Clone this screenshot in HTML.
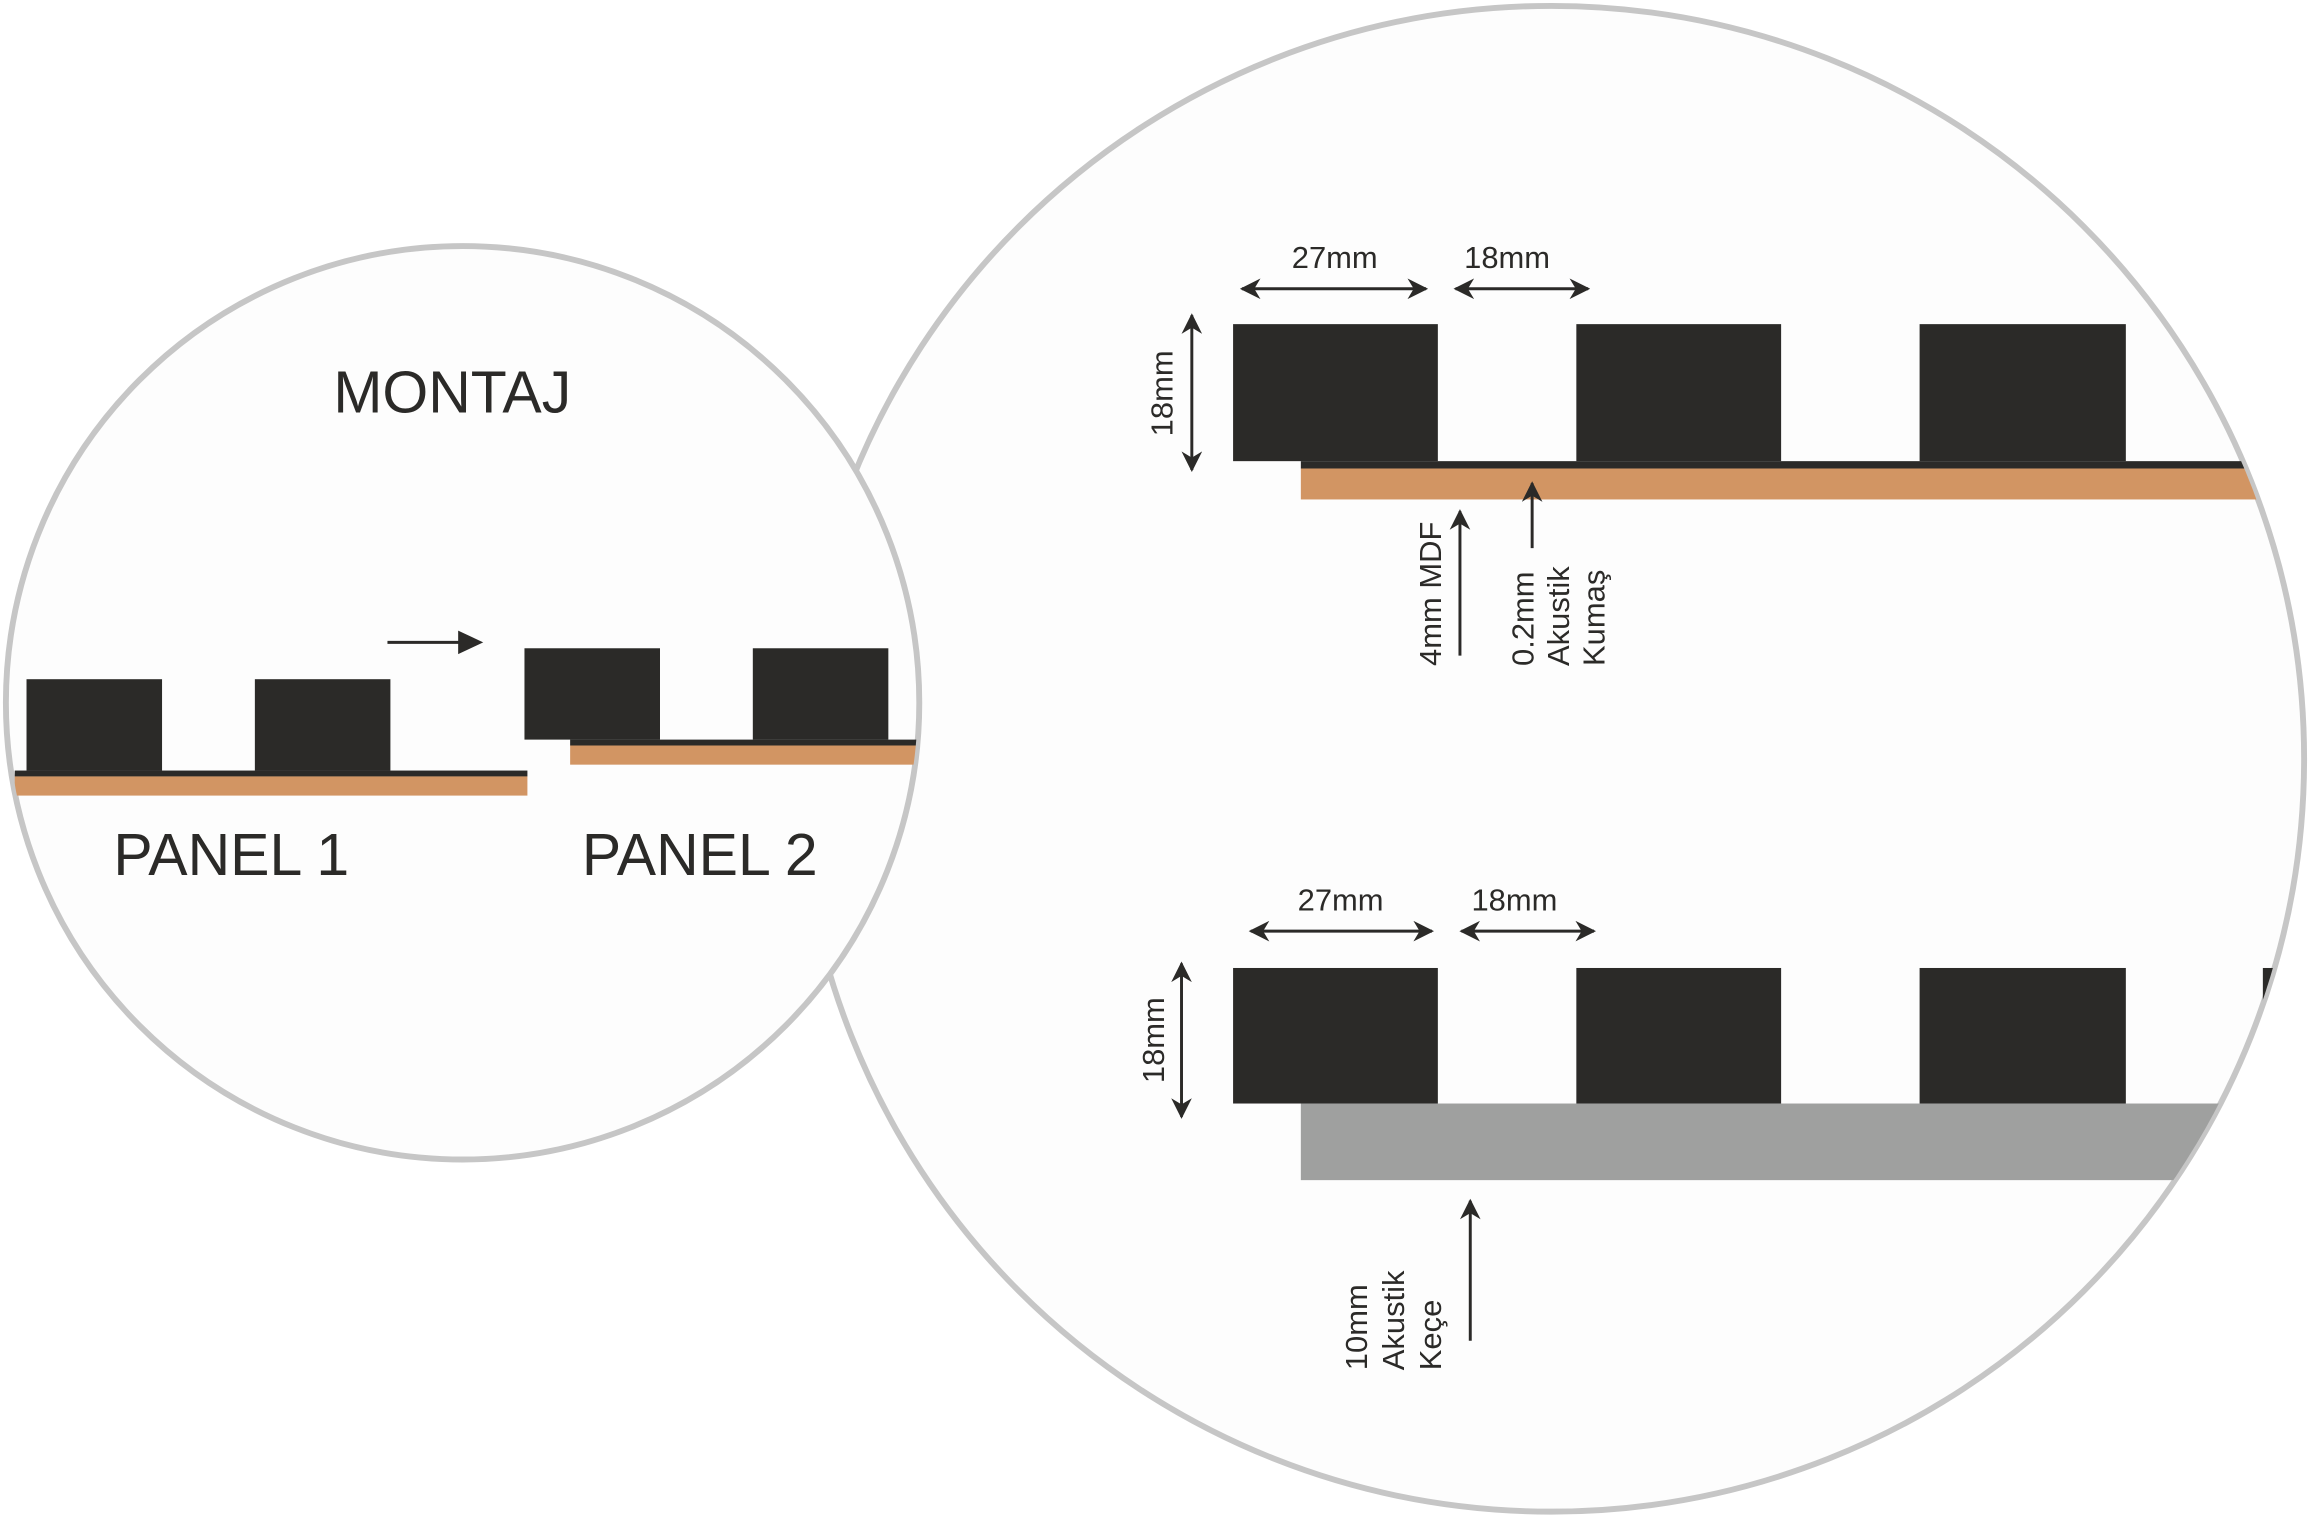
<!DOCTYPE html>
<html><head><meta charset="utf-8"><style>
html,body{margin:0;padding:0;background:#fff;}
svg{display:block;}
text{font-family:"Liberation Sans",sans-serif;fill:#2b2a28;}
</style></head><body>
<svg width="2310" height="1519" viewBox="0 0 1568 1031" preserveAspectRatio="none" xmlns="http://www.w3.org/2000/svg">
<defs>
<clipPath id="rc"><circle cx="1053" cy="515" r="510"/></clipPath>
<clipPath id="lc"><circle cx="314" cy="477" r="309"/></clipPath>
<marker id="ah" viewBox="0 0 10 10" refX="9" refY="5" markerWidth="7" markerHeight="7" orient="auto-start-reverse"><path d="M0,0 L10,5 L0,10 L3,5 Z" fill="#2b2a28"/></marker>
</defs>
<rect width="1568" height="1031" fill="#fff"/>
<circle cx="1053" cy="515" r="511" fill="#fdfdfd" stroke="#c6c6c6" stroke-width="4"/>
<g clip-path="url(#rc)">
  <g fill="#2b2a28">
    <rect x="837" y="220" width="139" height="93"/>
    <rect x="1070" y="220" width="139" height="93"/>
    <rect x="1303" y="220" width="140" height="93"/>
    <rect x="883" y="313" width="700" height="5"/>
  </g>
  <rect x="883" y="318" width="700" height="21" fill="#d29563"/>
  <g fill="#2b2a28">
    <rect x="837" y="657" width="139" height="92"/>
    <rect x="1070" y="657" width="139" height="92"/>
    <rect x="1303" y="657" width="140" height="92"/>
    <rect x="1536" y="657" width="140" height="92"/>
  </g>
  <rect x="883" y="749" width="700" height="52" fill="#9fa09f"/>
</g>
<g stroke="#2b2a28" stroke-width="2" fill="none">
  <line x1="843" y1="196" x2="968" y2="196" marker-start="url(#ah)" marker-end="url(#ah)"/>
  <line x1="988" y1="196" x2="1078" y2="196" marker-start="url(#ah)" marker-end="url(#ah)"/>
  <line x1="809" y1="214" x2="809" y2="319" marker-start="url(#ah)" marker-end="url(#ah)"/>
  <line x1="991" y1="445" x2="991" y2="347" marker-end="url(#ah)"/>
  <line x1="1040" y1="372" x2="1040" y2="328" marker-end="url(#ah)"/>
  <line x1="849" y1="632" x2="972" y2="632" marker-start="url(#ah)" marker-end="url(#ah)"/>
  <line x1="992" y1="632" x2="1082" y2="632" marker-start="url(#ah)" marker-end="url(#ah)"/>
  <line x1="802" y1="654" x2="802" y2="758" marker-start="url(#ah)" marker-end="url(#ah)"/>
  <line x1="998" y1="910" x2="998" y2="815" marker-end="url(#ah)"/>
</g>
<g font-size="21">
  <text x="906" y="182" text-anchor="middle">27mm</text>
  <text x="1023" y="182" text-anchor="middle">18mm</text>
  <text transform="translate(796,267) rotate(-90)" text-anchor="middle">18mm</text>
  <text transform="translate(978,452) rotate(-90)">4mm MDF</text>
  <text transform="translate(1041,452) rotate(-90)">0.2mm</text>
  <text transform="translate(1065,452) rotate(-90)">Akustik</text>
  <text transform="translate(1089,452) rotate(-90)">Kumaş</text>
  <text x="910" y="618" text-anchor="middle">27mm</text>
  <text x="1028" y="618" text-anchor="middle">18mm</text>
  <text transform="translate(790,706) rotate(-90)" text-anchor="middle">18mm</text>
  <text transform="translate(928,930) rotate(-90)">10mm</text>
  <text transform="translate(953,930) rotate(-90)">Akustik</text>
  <text transform="translate(978,930) rotate(-90)">Keçe</text>
</g>
<circle cx="314" cy="477" r="310" fill="#fdfdfd" stroke="#c6c6c6" stroke-width="4"/>
<g clip-path="url(#lc)">
  <g fill="#2b2a28">
    <rect x="18" y="461" width="92" height="62"/>
    <rect x="173" y="461" width="92" height="62"/>
    <rect x="10" y="523" width="348" height="4"/>
    <rect x="356" y="440" width="92" height="62"/>
    <rect x="511" y="440" width="92" height="62"/>
    <rect x="387" y="502" width="240" height="4"/>
  </g>
  <rect x="10" y="527" width="348" height="13" fill="#d29563"/>
  <rect x="387" y="506" width="240" height="13" fill="#d29563"/>
</g>
<line x1="263" y1="436" x2="313" y2="436" stroke="#2b2a28" stroke-width="2"/>
<path d="M311,428 L328,436 L311,444 Z" fill="#2b2a28"/>
<text x="307" y="280" font-size="40" text-anchor="middle">MONTAJ</text>
<text x="157" y="594" font-size="40" text-anchor="middle">PANEL 1</text>
<text x="475" y="594" font-size="40" text-anchor="middle">PANEL 2</text>
</svg>
</body></html>
